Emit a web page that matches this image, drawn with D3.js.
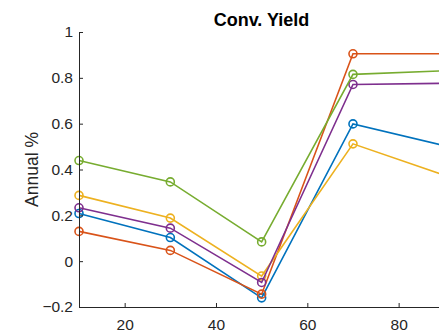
<!DOCTYPE html>
<meta charset="utf-8">
<script src="https://d3js.org/d3.v7.min.js"></script>
<style>
  body { margin: 0; background: #fff; }
  text { font-family: "Liberation Sans", Arial, Helvetica, sans-serif; }
</style>
<div id="my_dataviz"></div>
<script>

// data
var maturities = [10, 30, 50, 70, 90];
var seriesNames = ["s1", "s2", "s3", "s4", "s5"];
var blueVals   = [0.208, 0.103, -0.160, 0.599, 0.504];
var redVals    = [0.130, 0.047, -0.144, 0.905, 0.905];
var yellowVals = [0.287, 0.188, -0.065, 0.512, 0.375];
var purpleVals = [0.233, 0.144, -0.093, 0.771, 0.776];
var greenVals  = [0.439, 0.346, 0.084, 0.815, 0.831];
var xTicks = [20, 40, 60, 80];
var yTicks = [-0.2, 0, 0.2, 0.4, 0.6, 0.8, 1];

var series = [blueVals, redVals, yellowVals, purpleVals, greenVals];
var colors = ["#0072BD", "#D95319", "#EDB120", "#7E2F8E", "#77AC30"];

var W = 439, H = 331;
var axisColor = "#262626";

var svg = d3.select("#my_dataviz")
  .append("svg")
    .attr("width", W)
    .attr("height", H);

var x = d3.scaleLinear().domain([10, 90]).range([79, 444.3]);
var y = d3.scaleLinear().domain([-0.2, 1]).range([307, 32]);

// lines + markers
var line = d3.line()
  .x(function(d, i) { return x(maturities[i]); })
  .y(function(d) { return y(d); });

series.forEach(function(vals, k) {
  var g = svg.append("g");
  g.append("path")
    .datum(vals)
    .attr("d", line)
    .attr("fill", "none")
    .attr("stroke", colors[k])
    .attr("stroke-width", 1.6);
  g.selectAll("circle")
    .data(vals)
    .enter()
    .append("circle")
      .attr("cx", function(d, i) { return x(maturities[i]); })
      .attr("cy", function(d) { return y(d); })
      .attr("r", 4)
      .attr("fill", "none")
      .attr("stroke", colors[k])
      .attr("stroke-width", 1.6);
});

// X axis (ticks inside)
var xAxis = svg.append("g")
  .attr("transform", "translate(0," + y(-0.2) + ")")
  .call(d3.axisBottom(x).tickValues(xTicks).tickSizeInner(-4).tickSizeOuter(0).tickPadding(12));
// Y axis
var yAxis = svg.append("g")
  .attr("transform", "translate(" + x(10) + ",0)")
  .call(d3.axisLeft(y).tickValues(yTicks).tickSizeInner(-4).tickSizeOuter(0).tickPadding(6)
    .tickFormat(function(d) { return d3.format("")(+d.toFixed(1)); }));

[xAxis, yAxis].forEach(function(a) {
  a.select(".domain").attr("stroke", axisColor).attr("stroke-width", 1);
  a.selectAll(".tick line").attr("stroke", axisColor);
  a.selectAll(".tick text")
    .attr("fill", axisColor)
    .style("font-size", "15.5px")
    .style("font-family", "'Liberation Sans', Arial, sans-serif");
});

// title
svg.append("text")
  .attr("x", 261.5)
  .attr("y", 25.7)
  .attr("text-anchor", "middle")
  .style("font-size", "18px")
  .style("font-weight", "bold")
  .attr("fill", "#000")
  .text("Conv. Yield");

// y label
svg.append("text")
  .attr("transform", "translate(38,169.5) rotate(-90)")
  .attr("text-anchor", "middle")
  .style("font-size", "17.5px")
  .attr("fill", axisColor)
  .text("Annual %");

</script>
